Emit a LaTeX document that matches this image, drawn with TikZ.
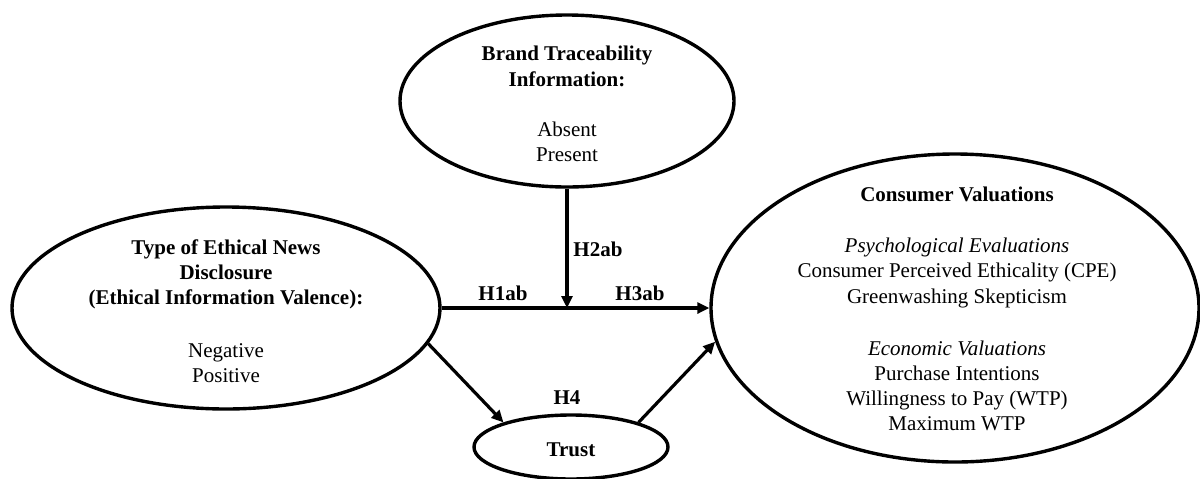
\documentclass[tikz,border=0pt]{standalone}
\usepackage{fontspec}
\setmainfont{Liberation Serif}
\usetikzlibrary{shapes.geometric,arrows.meta}
\tikzset{
  oval/.style={draw,ellipse,line width=1.7pt,inner sep=0pt},
  txt/.style={align=center,font=\fontsize{10.5}{12.6}\selectfont},
  hlab/.style={font=\fontsize{10.5}{12.6}\selectfont\bfseries},
  link/.style={line width=1.6pt,-{Triangle[length=6pt,width=5.5pt]}},
}
\begin{document}
\begin{tikzpicture}[x=0.5pt,y=-0.5pt]
\useasboundingbox (0,0) rectangle (1200,478);
% ellipses
\node[oval,minimum width=167pt,minimum height=86pt] (T) at (567,101) {};
\node[oval,minimum width=214pt,minimum height=101pt] (L) at (226,308) {};
\node[oval,minimum width=244pt,minimum height=154pt] (R) at (955,308) {};
\node[oval,minimum width=97pt,minimum height=32pt] (Tr) at (571,447) {};
% texts
\node[txt] (Ttext) at (567,104) {\textbf{Brand Traceability}\\[0.5pt]\textbf{Information:}\\[12.5pt]Absent\\Present};
\node[txt] (Ltext) at (226,311) {\textbf{Type of Ethical News}\\\textbf{Disclosure}\\\textbf{(Ethical Information Valence):}\\[13.5pt]Negative\\Positive};
\node[txt] (Rtext) at (957,309) {\textbf{Consumer Valuations}\\[13pt]\textit{Psychological Evaluations}\\Consumer Perceived Ethicality (CPE)\\Greenwashing Skepticism\\[13.5pt]\textit{Economic Valuations}\\Purchase Intentions\\Willingness to Pay (WTP)\\Maximum WTP};
\node[hlab] (trusttext) at (571,450) {Trust};
% connectors
\coordinate (M) at (T.south |- L.east);
\draw[link] (L.east) -- (R.west);
\draw[link] (T.south) -- (M);
\draw[link] (L.-10) -- (Tr.160);
\draw[link] (Tr.20) -- (R.-172.5);
% labels
\node[hlab] (h1) at (503,293) {H1ab};
\node[hlab] (h2) at (598,249) {H2ab};
\node[hlab] (h3) at (640,293) {H3ab};
\node[hlab] (h4) at (567,398) {H4};
\end{tikzpicture}
\end{document}
